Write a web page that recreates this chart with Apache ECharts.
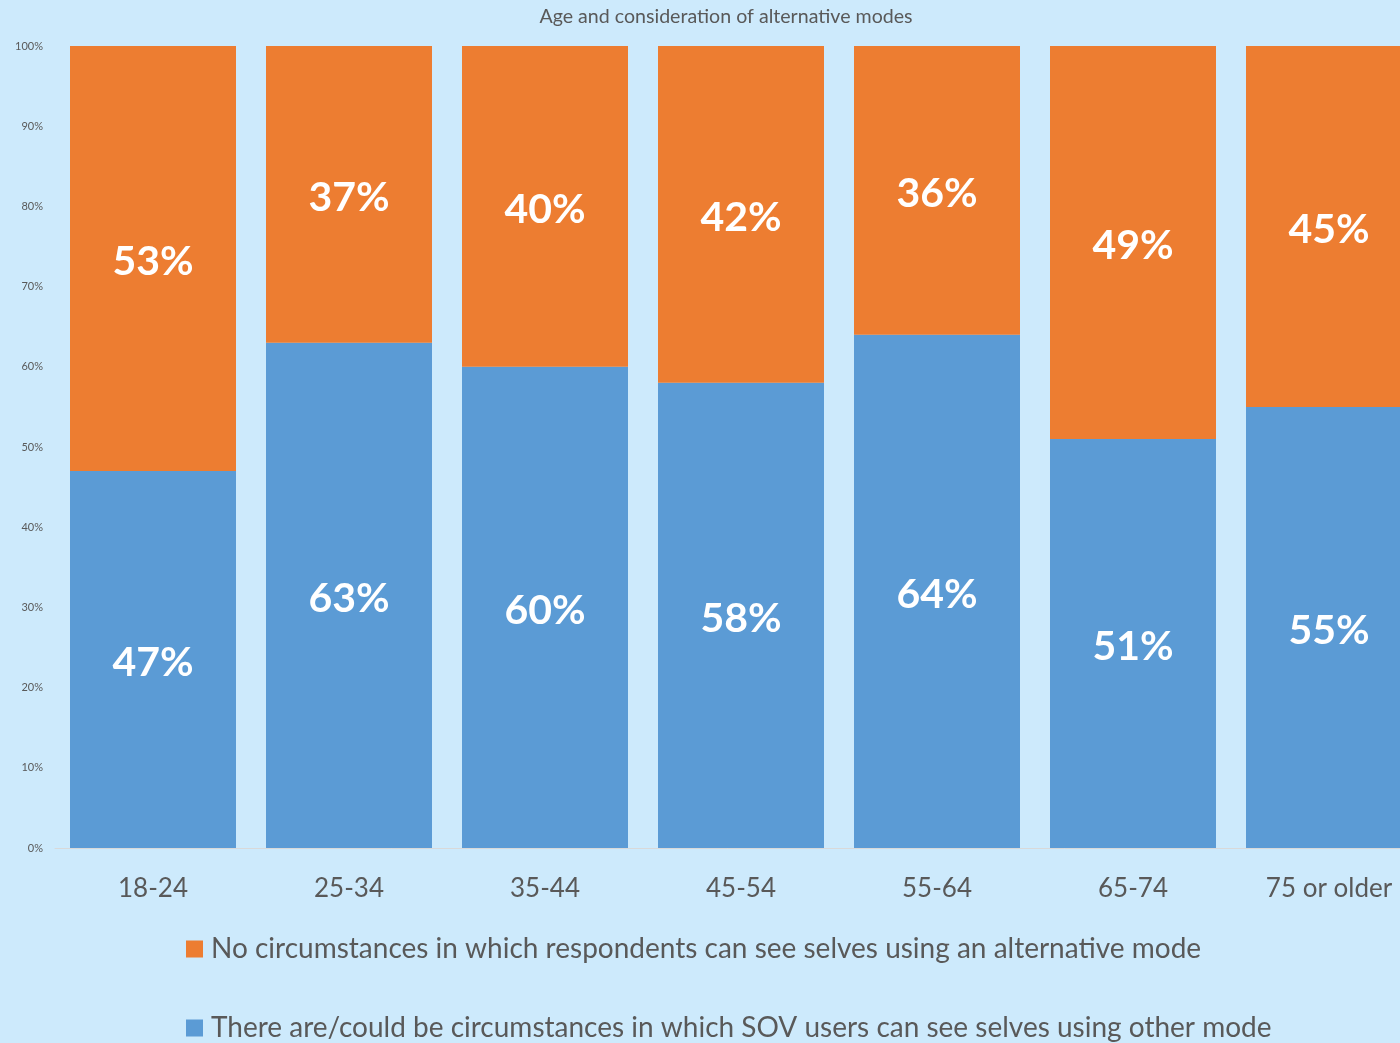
<!DOCTYPE html>
<html>
<head>
<meta charset="utf-8">
<style>
  html, body { margin: 0; padding: 0; background: #cdeafc; }
  #chart { width: 1400px; height: 1043px; }
</style>
<script src="https://cdn.jsdelivr.net/npm/echarts@6/dist/echarts.min.js"></script>
</head>
<body>
<div id="chart"></div>
<script>
// Age groups along the x axis
const ageGroups = ['18-24', '25-34', '35-44', '45-54', '55-64', '65-74', '75 or older'];
// Share (%) who could see themselves using another mode
const canSwitch = [47, 63, 60, 58, 64, 51, 55];
// Share (%) who see no circumstances for an alternative mode
const noSwitch = [53, 37, 40, 42, 36, 49, 45];
// Value-axis tick values
const yTicks = [0, 10, 20, 30, 40, 50, 60, 70, 80, 90, 100];

const seriesNames = {
  no: 'No circumstances in which respondents can see selves using an alternative mode',
  yes: 'There are/could be circumstances in which SOV users can see selves using other mode'
};

const chart = echarts.init(document.getElementById('chart'), null, { renderer: 'canvas' });

const valueLabel = {
  show: true,
  position: 'inside',
  offset: [0, 3],
  color: '#ffffff',
  fontFamily: 'Lato',
  fontWeight: 'bold',
  fontSize: 41,
  formatter: p => p.value + '%'
};

chart.setOption({
  backgroundColor: '#cdeafc',
  textStyle: { fontFamily: 'Lato' },
  title: {
    text: 'Age and consideration of alternative modes',
    left: 721,
    top: 2,
    textAlign: 'center',
    textStyle: { color: '#595959', fontSize: 19.6, fontWeight: 'normal', fontFamily: 'Lato' }
  },
  legend: {
    orient: 'vertical',
    left: 186,
    top: 935,
    height: 400,
    padding: 0,
    itemGap: 51,
    itemWidth: 17,
    itemHeight: 17,
    icon: 'rect',
    data: [seriesNames.no, seriesNames.yes],
    textStyle: { color: '#595959', fontSize: 28, fontFamily: 'Lato', padding: [0, 0, 0, 3] }
  },
  grid: {
    left: 55,
    top: 46,
    width: 1372,
    bottom: 195,
    outerBoundsMode: 'none',
    containLabel: false
  },
  xAxis: {
    type: 'category',
    data: ageGroups,
    axisLine: { show: true, lineStyle: { color: '#d9d9d9', width: 1 } },
    axisTick: { show: false },
    axisLabel: { color: '#595959', fontSize: 26, margin: 28, fontFamily: 'Lato' }
  },
  yAxis: {
    type: 'value',
    min: yTicks[0],
    max: yTicks[yTicks.length - 1],
    interval: yTicks[1] - yTicks[0],
    splitLine: { show: false },
    axisLine: { show: false },
    axisTick: { show: false },
    axisLabel: { color: '#595959', fontSize: 11, margin: 12, formatter: '{value}%', fontFamily: 'Lato' }
  },
  series: [
    {
      name: seriesNames.yes,
      type: 'bar',
      stack: 'total',
      data: canSwitch,
      barWidth: 166,
      itemStyle: { color: '#5b9bd5' },
      label: valueLabel
    },
    {
      name: seriesNames.no,
      type: 'bar',
      stack: 'total',
      data: noSwitch,
      barWidth: 166,
      itemStyle: { color: '#ed7d31' },
      label: valueLabel
    }
  ]
});
</script>
</body>
</html>
